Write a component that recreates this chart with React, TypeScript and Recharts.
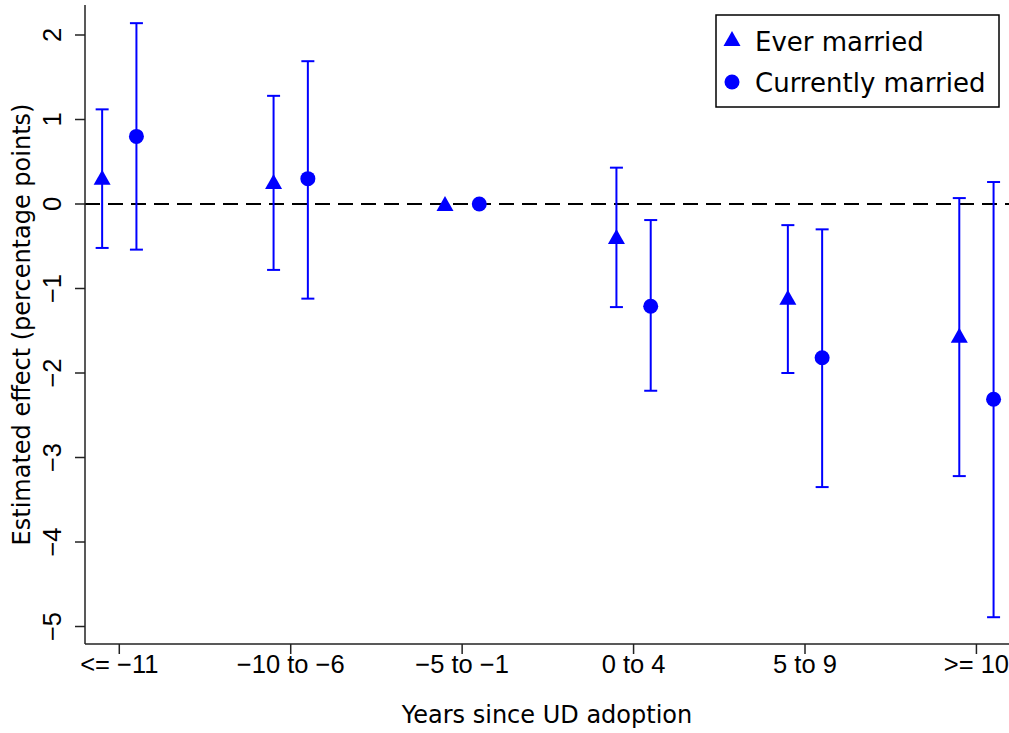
import { ScatterChart, Scatter, XAxis, YAxis, ErrorBar, ReferenceLine, Legend } from 'recharts'

const categories = ['<= \u221211', '\u221210 to \u22126', '\u22125 to \u22121', '0 to 4', '5 to 9', '>= 10']

// Ever married (triangles)
const everEst = [0.31, 0.26, 0, -0.39, -1.11, -1.56]
const everLow = [-0.52, -0.78, null, -1.22, -2.0, -3.22]
const everHigh = [1.12, 1.28, null, 0.43, -0.25, 0.07]

// Currently married (circles)
const currEst = [0.8, 0.3, 0, -1.21, -1.82, -2.31]
const currLow = [-0.54, -1.12, null, -2.21, -3.35, -4.89]
const currHigh = [2.14, 1.69, null, -0.19, -0.3, 0.26]

const yTicks = [-5, -4, -3, -2, -1, 0, 1, 2]

const BLUE = '#0000ff'
const FONT = '"DejaVu Sans", "Liberation Sans", Arial, sans-serif'
const TICK_FONT = '"Liberation Sans", Arial, Helvetica, sans-serif'
const DODGE = 0.1

function buildRows(est: number[], low: (number | null)[], high: (number | null)[], shift: number) {
  return est.map((y, i) => ({
    x: i + shift,
    y,
    err: low[i] == null || high[i] == null ? null : [y - (low[i] as number), (high[i] as number) - y],
  }))
}

const everRows = buildRows(everEst, everLow, everHigh, -DODGE)
const currRows = buildRows(currEst, currLow, currHigh, DODGE)

const Triangle = (props: any) => {
  const { cx, cy } = props
  if (cx == null || cy == null) return null
  return <path d={`M${cx},${cy - 8} L${cx + 8.5},${cy + 7} L${cx - 8.5},${cy + 7} Z`} fill={BLUE} />
}

const Dot = (props: any) => {
  const { cx, cy } = props
  if (cx == null || cy == null) return null
  return <circle cx={cx} cy={cy} r={7.5} fill={BLUE} />
}

const XTick = (props: any) => {
  const { x, y, payload } = props
  return (
    <text x={x} y={y} textAnchor="middle" fontSize={25.5} fontFamily={TICK_FONT} fill="#000">
      {categories[payload.value]}
    </text>
  )
}

const YTick = (props: any) => {
  const { x, y, payload } = props
  const v = payload.value
  const label = v < 0 ? `\u2212${Math.abs(v)}` : `${v}`
  return (
    <text x={x} y={y} transform={`rotate(-90 ${x} ${y})`} textAnchor="middle" fontSize={25.5} fontFamily={TICK_FONT} fill="#000">
      {label}
    </text>
  )
}

const YTitle = (props: any) => {
  const vb = props.viewBox || { x: 0, y: 5, height: 639 }
  const x = vb.x + 30
  const y = vb.y + vb.height / 2
  return (
    <text x={x} y={y} transform={`rotate(-90 ${x} ${y})`} textAnchor="middle" fontSize={24} fontFamily={FONT} fill="#000">
      Estimated effect (percentage points)
    </text>
  )
}

const LegendBox = () => (
  <svg width={286} height={95} style={{ display: 'block' }}>
    <rect x={1} y={1} width={283} height={92} fill="#fff" stroke="#000" strokeWidth={1.5} />
    <Triangle cx={17} cy={25} />
    <text x={40} y={37} fontSize={26} fontFamily={FONT} fill="#000">Ever married</text>
    <Dot cx={17} cy={68} />
    <text x={40} y={78} fontSize={26} fontFamily={FONT} fill="#000">Currently married</text>
  </svg>
)

export default function App() {
  return (
    <div style={{ position: 'absolute', left: 0, top: 0, background: '#fff' }}>
      <ScatterChart width={1009} height={733} margin={{ top: 5, right: 0, bottom: 0, left: 0 }}>
        <XAxis
          type="number"
          dataKey="x"
          domain={[-0.2, 5.19]}
          ticks={[0, 1, 2, 3, 4, 5]}
          interval={0}
          allowDataOverflow
          height={89}
          tickSize={10}
          tickMargin={19}
          stroke="#222"
          strokeWidth={1.5}
          tick={<XTick />}
          label={{ value: 'Years since UD adoption', position: 'insideBottom', offset: 10, fontSize: 24, fontFamily: FONT, fill: '#000' }}
        />
        <YAxis
          type="number"
          dataKey="y"
          domain={[-5.207, 2.355]}
          ticks={yTicks}
          interval={0}
          allowDataOverflow
          width={85}
          tickSize={10}
          tickMargin={14}
          stroke="#222"
          strokeWidth={1.5}
          tick={<YTick />}
          label={{ content: (p: any) => <YTitle {...p} /> }}
        />
        <ReferenceLine y={0} stroke="#000" strokeWidth={2} strokeDasharray="15 8" />
        <Legend
          layout="vertical"
          align="center"
          verticalAlign="middle"
          wrapperStyle={{ left: 715, top: 14, width: 286, height: 95 }}
          content={() => <LegendBox />}
        />
        <Scatter name="Ever married" data={everRows} shape={Triangle} isAnimationActive={false}>
          <ErrorBar dataKey="err" direction="y" width={6.5} stroke={BLUE} strokeWidth={2} isAnimationActive={false} />
        </Scatter>
        <Scatter name="Currently married" data={currRows} shape={Dot} isAnimationActive={false}>
          <ErrorBar dataKey="err" direction="y" width={6.5} stroke={BLUE} strokeWidth={2} isAnimationActive={false} />
        </Scatter>
      </ScatterChart>
    </div>
  )
}
